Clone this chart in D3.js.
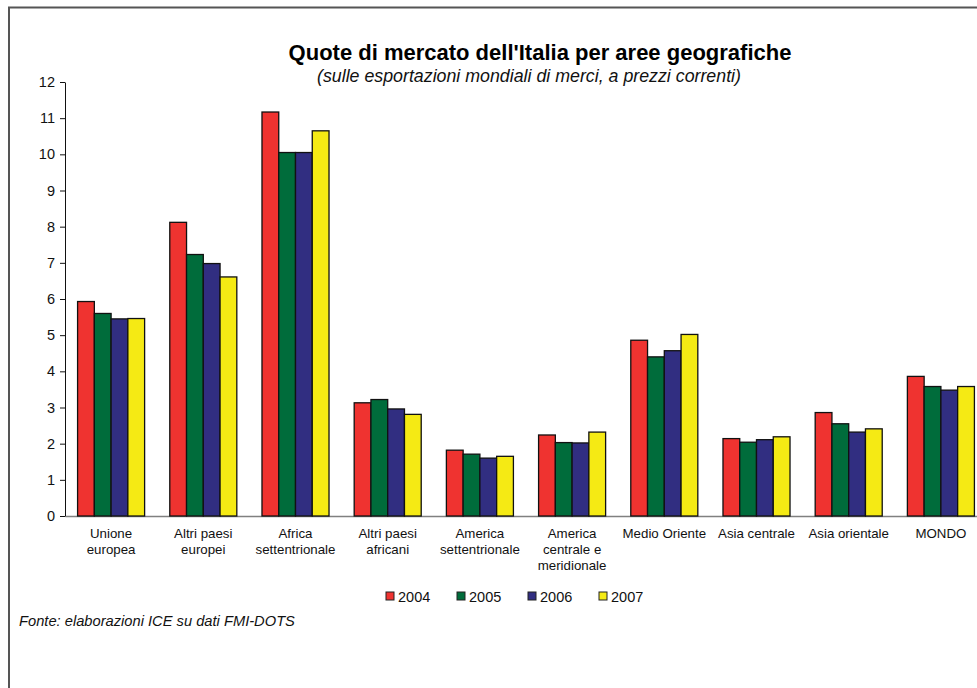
<!DOCTYPE html>
<html>
<head>
<meta charset="utf-8">
<script src="https://cdn.jsdelivr.net/npm/d3@7"></script>
<style>
  html, body { margin: 0; padding: 0; background: #fff; }
  svg { display: block; font-family: "Liberation Sans", Arial, sans-serif; }
</style>
</head>
<body>
<svg id="chart" width="977" height="688"></svg>
<script>
const categories = [
  "Unione\neuropea",
  "Altri paesi\neuropei",
  "Africa\nsettentrionale",
  "Altri paesi\nafricani",
  "America\nsettentrionale",
  "America\ncentrale e\nmeridionale",
  "Medio Oriente",
  "Asia centrale",
  "Asia orientale",
  "MONDO"
];
const years = ["2004", "2005", "2006", "2007"];
const values2004 = [5.93, 8.12, 11.17, 3.13, 1.82, 2.24, 4.86, 2.14, 2.86, 3.86];
const values2005 = [5.60, 7.23, 10.05, 3.22, 1.71, 2.03, 4.40, 2.04, 2.55, 3.58];
const values2006 = [5.45, 6.98, 10.05, 2.96, 1.60, 2.02, 4.57, 2.11, 2.32, 3.48];
const values2007 = [5.46, 6.61, 10.65, 2.81, 1.65, 2.32, 5.02, 2.19, 2.41, 3.58];
const yTicks = [0, 1, 2, 3, 4, 5, 6, 7, 8, 9, 10, 11, 12];
const colors = ["#EF3330", "#006C3B", "#312E81", "#F5EA14"];
const title = "Quote di mercato dell'Italia per aree geografiche";
const subtitle = "(sulle esportazioni mondiali di merci, a prezzi correnti)";
const source = "Fonte: elaborazioni ICE su dati FMI-DOTS";

const seriesValues = [values2004, values2005, values2006, values2007];
const rows = categories.map((c, i) => ({ cat: c, vals: years.map((y, j) => ({ year: y, v: seriesValues[j][i], j })) }));

const svg = d3.select("#chart");

// frame
svg.append("path")
  .attr("d", "M9,688 V7.5 H977")
  .attr("fill", "none")
  .attr("stroke", "#555")
  .attr("stroke-width", 2);

const y = d3.scaleLinear().domain([0, 12]).range([516, 82]);
const x = d3.scaleBand().domain(categories).range([65, 987]).paddingInner(0.273).paddingOuter(0.1365);
const xs = d3.scaleBand().domain(years).range([0, x.bandwidth()]);

// x axis line
const xAxis = svg.append("g")
  .attr("transform", `translate(0,${y(0)})`)
  .call(d3.axisBottom(x).tickSize(0).tickSizeOuter(0).tickFormat(""));
xAxis.select(".domain").attr("stroke", "#808080").attr("stroke-width", 1.5);

// bars
const groups = svg.append("g").selectAll("g").data(rows).join("g")
  .attr("transform", d => `translate(${x(d.cat)},0)`);
groups.selectAll("rect").data(d => d.vals).join("rect")
  .attr("x", d => xs(d.year))
  .attr("y", d => y(d.v))
  .attr("width", xs.bandwidth())
  .attr("height", d => y(0) - y(d.v))
  .attr("fill", d => colors[d.j])
  .attr("stroke", "#111")
  .attr("stroke-width", 1.3);

// y axis
const yAxis = svg.append("g")
  .attr("transform", "translate(65,0)")
  .call(d3.axisLeft(y).tickValues(yTicks).tickFormat(d3.format("d")).tickSize(5).tickSizeOuter(0).tickPadding(5));
yAxis.select(".domain").attr("stroke", "#111").attr("stroke-width", 1);
yAxis.selectAll(".tick line").attr("stroke", "#111");
yAxis.selectAll(".tick text").attr("font-size", 14.5).attr("fill", "#111")
  .attr("font-family", "Liberation Sans, Arial, sans-serif");

// category labels
const lab = svg.append("g").selectAll("text").data(categories).join("text")
  .attr("x", d => x(d) + x.bandwidth() / 2)
  .attr("y", 538)
  .attr("text-anchor", "middle")
  .attr("font-size", 13.3)
  .attr("fill", "#111");
lab.each(function(d) {
  const lines = d.split("\n");
  d3.select(this).selectAll("tspan").data(lines).join("tspan")
    .attr("x", x(d) + x.bandwidth() / 2)
    .attr("dy", (l, i) => i === 0 ? 0 : 16)
    .text(l => l);
});

// title
svg.append("text").attr("x", 540).attr("y", 60)
  .attr("text-anchor", "middle").attr("font-size", 22).attr("font-weight", "bold")
  .attr("fill", "#000").text(title);
svg.append("text").attr("x", 529).attr("y", 82)
  .attr("text-anchor", "middle").attr("font-size", 17.8).attr("font-style", "italic")
  .attr("fill", "#111").text(subtitle);

// legend
const legend = svg.append("g").selectAll("g").data(years).join("g")
  .attr("transform", (d, i) => `translate(${386 + i * 71},592)`);
legend.append("rect").attr("width", 8).attr("height", 8)
  .attr("fill", (d, i) => colors[i]).attr("stroke", "#222").attr("stroke-width", 1);
legend.append("text").attr("x", 12).attr("y", 9.5)
  .attr("font-size", 14.5).attr("fill", "#111").text(d => d);

// source
svg.append("text").attr("x", 19).attr("y", 626)
  .attr("font-size", 14.7).attr("font-style", "italic").attr("fill", "#111").text(source);
</script>
</body>
</html>
